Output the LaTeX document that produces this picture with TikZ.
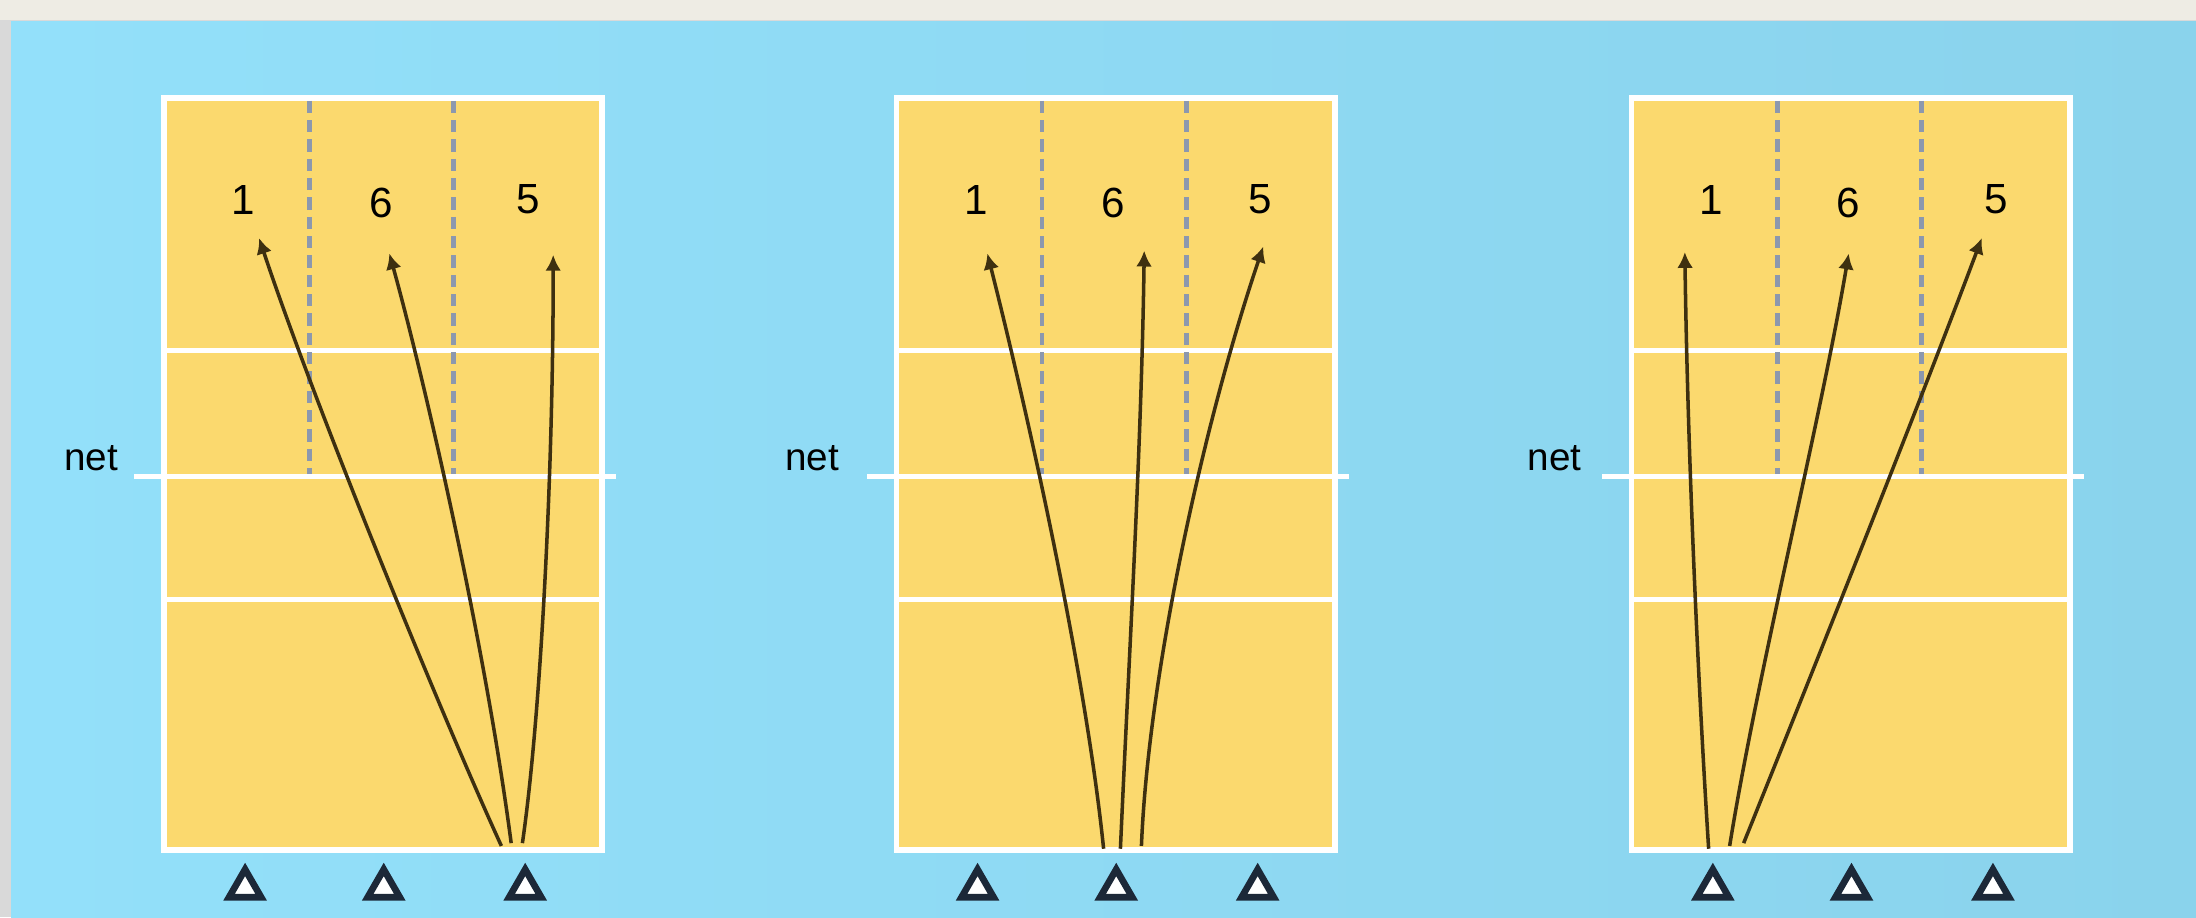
\documentclass[tikz,border=0pt]{standalone}
\usepackage{fontspec}
\setmainfont{Liberation Sans}
\usetikzlibrary{positioning,shapes.geometric,arrows.meta}
\definecolor{sky}{HTML}{93E0FA}
\definecolor{skyR}{HTML}{8AD3EC}
\definecolor{sand}{HTML}{FBD96E}
\definecolor{topbar}{HTML}{EEECE4}
\definecolor{rim}{HTML}{D9D9D9}
\definecolor{dashc}{HTML}{8C98AE}
\definecolor{pathc}{HTML}{3E3010}
\definecolor{conec}{HTML}{1C2838}

\begin{document}
\begin{tikzpicture}[x=0.014cm,y=-0.014cm,>={Latex[length=4.5pt,width=4.5pt]},
  court/.style={fill=sand,draw=white,line width=1.6pt},
  courtline/.style={white,line width=1.4pt},
  zone/.style={dashc,line width=1.3pt,dash pattern=on 3.5pt off 2pt},
  poslbl/.style={font=\fontsize{12}{14}\selectfont,inner sep=1pt},
  netlbl/.style={font=\fontsize{11}{13}\selectfont,inner sep=0pt},
  cone/.style={draw=conec,fill=white,regular polygon,regular polygon sides=3,
    minimum size=0.37cm,inner sep=0pt,line width=1.9pt},
  run/.style={->,pathc,line width=1pt}]
\useasboundingbox (0,0) rectangle (1568,655);
\fill[rim] (0,0) rectangle (1568,655);
\fill[topbar] (0,0) rectangle (1568,14);
\shade[left color=sky,middle color=sky,right color=skyR] (8,15) rectangle (1568,655);

% three courts
\foreach \cx/\c/\nx in {117/A/65,640/B/580,1165/C/1110}{
  \draw[court] (\cx,70) rectangle ++(313,537);
  \draw[courtline] (\cx,250) -- ++(313,0);
  \draw[courtline] (\cx,428) -- ++(313,0);
  \draw[zone] (\cx+104,72) -- (\cx+104,340);
  \draw[zone] (\cx+207,72) -- (\cx+207,340);
  \draw[courtline] (\cx-21,340) -- ++(344,0);
  \node[netlbl] (net\c) at (\nx,327) {net};
  \node[poslbl] (p\c1) at (\cx+57,143) {1};
  \node[poslbl] (p\c6) at (\cx+155,145) {6};
  \node[poslbl] (p\c5) at (\cx+260,142) {5};
  \node[cone] (c\c1) at (\cx+58,634) {};
  \node[cone] (c\c2) at (\cx+157,634) {};
  \node[cone] (c\c3) at (\cx+258,634) {};
}

% court A: serve from the right
\coordinate (sA1) at ([shift={(-17,-12)}]cA3.north);
\coordinate (sA6) at ([shift={(-10,-14)}]cA3.north);
\coordinate (sA5) at ([shift={(-2,-14)}]cA3.north);
\coordinate (tA1) at (185,170);
\coordinate (tA6) at (278,181);
\coordinate (tA5) at (395,182);
\draw[run] (sA1) .. controls (315,510) and (225,290) .. (tA1);
\draw[run] (sA6) .. controls (345,450) and (300,260) .. (tA6);
\draw[run] (sA5) .. controls (385,520) and (395,350) .. (tA5);

% court B: serve from the middle
\coordinate (sB1) at ([shift={(-9,-10)}]cB2.north);
\coordinate (sB6) at ([shift={(3,-10)}]cB2.north);
\coordinate (sB5) at ([shift={(18,-12)}]cB2.north);
\coordinate (tB1) at (705,181);
\coordinate (tB6) at (817,179);
\coordinate (tB5) at (902,176);
\draw[run] (sB1) .. controls (775,480) and (735,300) .. (tB1);
\draw[run] (sB6) .. controls (806,470) and (815,320) .. (tB6);
\draw[run] (sB5) .. controls (820,480) and (860,300) .. (tB5);

% court C: serve from the left
\coordinate (sC1) at ([shift={(-3,-10)}]cC1.north);
\coordinate (sC6) at ([shift={(12,-12)}]cC1.north);
\coordinate (sC5) at ([shift={(22,-14)}]cC1.north);
\coordinate (tC1) at (1203,180);
\coordinate (tC6) at (1320,181);
\coordinate (tC5) at (1415,170);
\draw[run] (sC1) .. controls (1212,480) and (1205,320) .. (tC1);
\draw[run] (sC6) .. controls (1255,480) and (1300,300) .. (tC6);
\draw[run] (sC5) .. controls (1290,490) and (1370,290) .. (tC5);
\end{tikzpicture}
\end{document}
